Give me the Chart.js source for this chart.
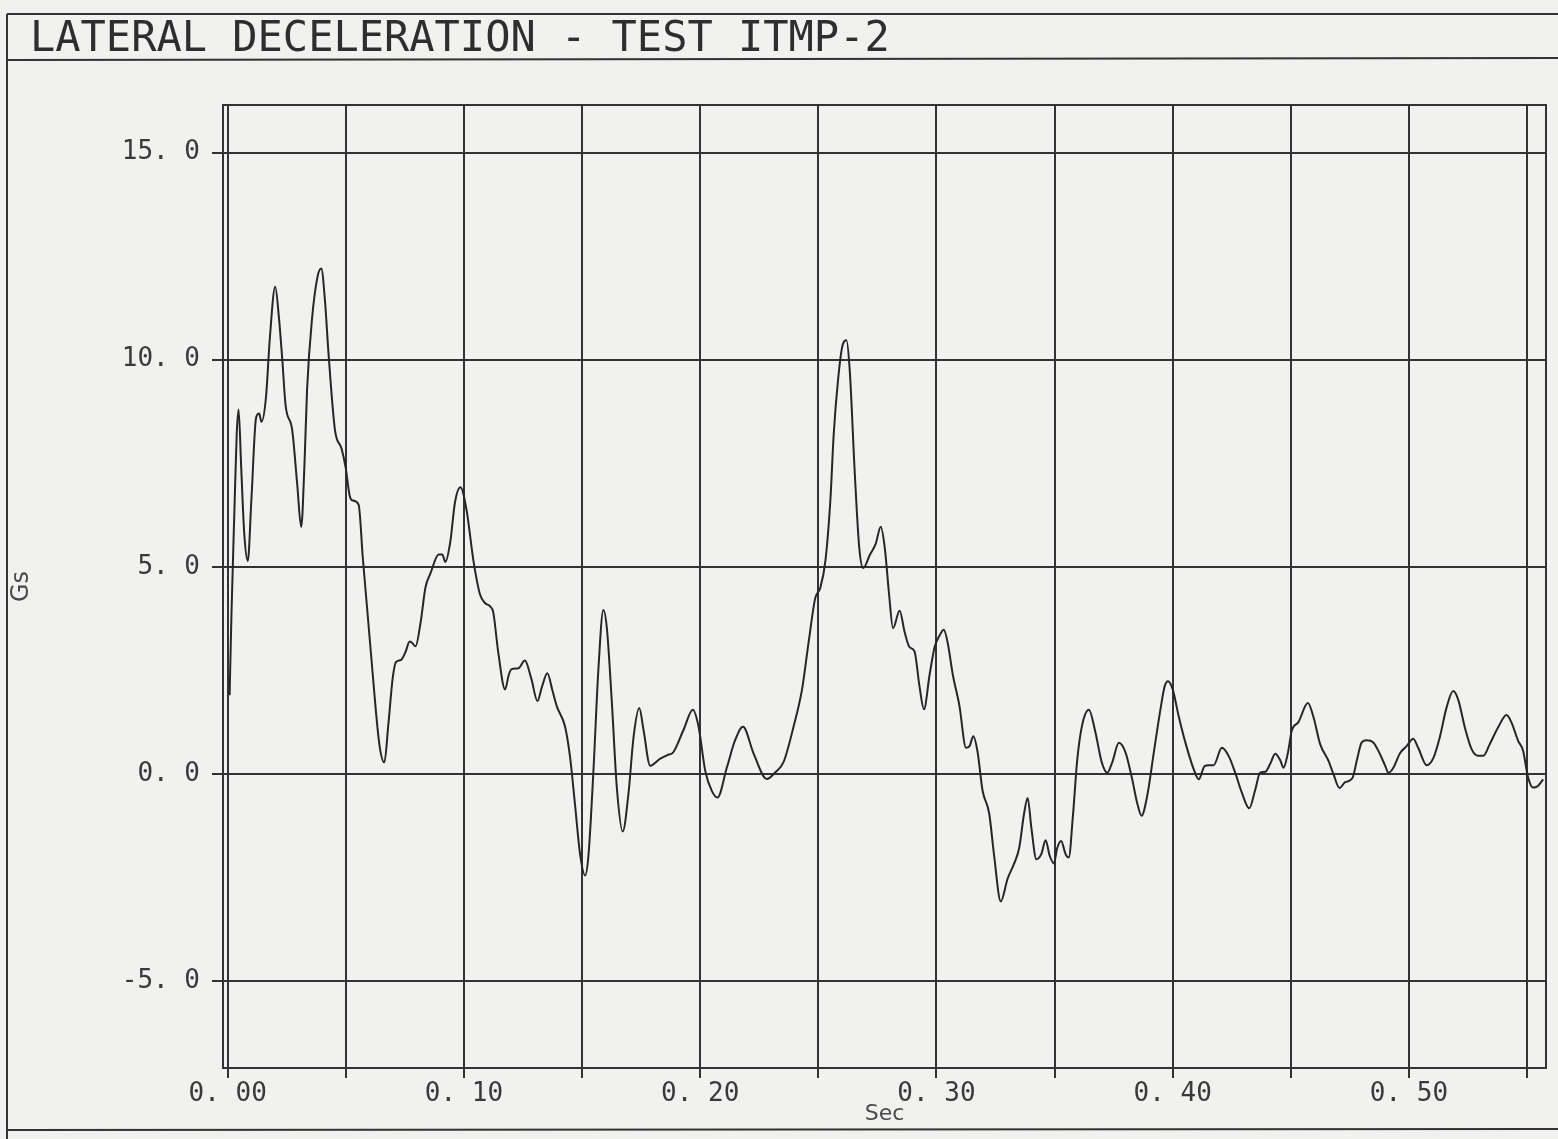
<!DOCTYPE html>
<html>
<head>
<meta charset="utf-8">
<title>Lateral Deceleration - Test ITMP-2</title>
<script src="https://cdn.jsdelivr.net/npm/chart.js@4.4.1/dist/chart.umd.min.js"></script>
<style>
  html, body { margin: 0; padding: 0; background: #f1f1ef; }
  #wrap { width: 1558px; height: 1139px; }
</style>
</head>
<body>
<div id="wrap"><canvas id="decelChart"></canvas></div>
<script>
// time in seconds
const timeSec = [
  0.0008, 0.0016, 0.0029, 0.0038, 0.0046, 0.0057, 0.0070, 0.0085, 0.0100, 0.0120,
  0.0133, 0.0143, 0.0162, 0.0178, 0.0201, 0.0217, 0.0231, 0.0245, 0.0273, 0.0294,
  0.0311, 0.0325, 0.0336, 0.0357, 0.0380, 0.0396, 0.0412, 0.0426, 0.0454, 0.0482,
  0.0499, 0.0517, 0.0530, 0.0554, 0.0572, 0.0607, 0.0642, 0.0663, 0.0680, 0.0698,
  0.0712, 0.0733, 0.0753, 0.0770, 0.0781, 0.0795, 0.0816, 0.0837, 0.0858, 0.0893,
  0.0908, 0.0921, 0.0942, 0.0962, 0.0985, 0.1011, 0.1040, 0.1068, 0.1090, 0.1110,
  0.1124, 0.1145, 0.1174, 0.1190, 0.1202, 0.1230, 0.1258, 0.1285, 0.1311, 0.1330,
  0.1353, 0.1375, 0.1393, 0.1428, 0.1449, 0.1470, 0.1492, 0.1513, 0.1527, 0.1548,
  0.1569, 0.1590, 0.1605, 0.1626, 0.1647, 0.1672, 0.1696, 0.1718, 0.1742, 0.1760,
  0.1788, 0.1831, 0.1859, 0.1887, 0.1929, 0.1969, 0.1993, 0.2021, 0.2049, 0.2073,
  0.2113, 0.2148, 0.2181, 0.2226, 0.2282, 0.2318, 0.2353, 0.2395, 0.2431, 0.2459,
  0.2487, 0.2508, 0.2530, 0.2551, 0.2565, 0.2584, 0.2603, 0.2619, 0.2633, 0.2654,
  0.2673, 0.2690, 0.2718, 0.2743, 0.2764, 0.2781, 0.2799, 0.2816, 0.2844, 0.2865,
  0.2886, 0.2907, 0.2928, 0.2947, 0.2971, 0.2992, 0.3013, 0.3031, 0.3048, 0.3069,
  0.3097, 0.3125, 0.3140, 0.3156, 0.3174, 0.3195, 0.3223, 0.3244, 0.3272, 0.3301,
  0.3329, 0.3350, 0.3371, 0.3386, 0.3402, 0.3423, 0.3444, 0.3462, 0.3479, 0.3497,
  0.3511, 0.3528, 0.3546, 0.3560, 0.3577, 0.3596, 0.3617, 0.3645, 0.3673, 0.3699,
  0.3723, 0.3744, 0.3772, 0.3800, 0.3828, 0.3849, 0.3868, 0.3892, 0.3920, 0.3948,
  0.3966, 0.3980, 0.4000, 0.4025, 0.4054, 0.4089, 0.4110, 0.4135, 0.4152, 0.4173,
  0.4208, 0.4237, 0.4265, 0.4293, 0.4324, 0.4349, 0.4370, 0.4392, 0.4413, 0.4434,
  0.4455, 0.4469, 0.4487, 0.4504, 0.4532, 0.4572, 0.4596, 0.4624, 0.4659, 0.4680,
  0.4706, 0.4730, 0.4761, 0.4779, 0.4800, 0.4821, 0.4849, 0.4877, 0.4899, 0.4913,
  0.4934, 0.4962, 0.4990, 0.5018, 0.5039, 0.5075, 0.5103, 0.5131, 0.5159, 0.5187,
  0.5208, 0.5237, 0.5265, 0.5293, 0.5315, 0.5342, 0.5377, 0.5413, 0.5434, 0.5462,
  0.5483, 0.5504, 0.5525, 0.5546, 0.5568
];

// lateral deceleration in Gs
const lateralGs = [
  1.90, 3.90, 6.50, 8.20, 8.80, 7.40, 5.80, 5.14, 6.60, 8.60,
  8.70, 8.50, 9.10, 10.5, 11.76, 11.0, 10.0, 8.90, 8.30, 7.00,
  5.96, 7.50, 9.30, 11.0, 12.0, 12.2, 11.4, 10.2, 8.30, 7.85,
  7.40, 6.70, 6.60, 6.50, 5.20, 2.86, 0.71, 0.28, 1.20, 2.30,
  2.70, 2.75, 2.95, 3.20, 3.16, 3.08, 3.64, 4.50, 4.84, 5.30,
  5.30, 5.12, 5.60, 6.56, 6.92, 6.37, 5.15, 4.33, 4.12, 4.05,
  3.90, 2.94, 2.04, 2.40, 2.53, 2.55, 2.74, 2.30, 1.76, 2.10,
  2.43, 2.00, 1.63, 1.14, 0.41, -0.74, -1.96, -2.45, -1.96, 0.08,
  2.53, 3.96, 3.51, 1.72, -0.33, -1.39, -0.49, 0.90, 1.59, 1.06,
  0.20, 0.37, 0.45, 0.53, 1.06, 1.55, 1.14, 0.08, -0.41, -0.57,
  0.16, 0.82, 1.14, 0.49, -0.12, 0.04, 0.29, 1.14, 2.04, 3.19,
  4.25, 4.49, 5.15, 6.62, 8.20, 9.55, 10.36, 10.47, 9.73, 7.28,
  5.47, 4.97, 5.29, 5.56, 5.97, 5.47, 4.36, 3.52, 3.94, 3.43,
  3.06, 2.96, 2.12, 1.56, 2.40, 3.06, 3.34, 3.48, 3.15, 2.40,
  1.65, 0.63, 0.67, 0.91, 0.53, -0.40, -0.95, -1.97, -3.08, -2.53,
  -2.16, -1.79, -0.95, -0.58, -1.32, -2.06, -1.93, -1.60, -1.97, -2.16,
  -1.79, -1.62, -1.93, -2.02, -1.05, 0.35, 1.19, 1.55, 1.00, 0.29,
  0.03, 0.28, 0.75, 0.52, -0.12, -0.69, -1.01, -0.53, 0.52, 1.56,
  2.12, 2.24, 2.04, 1.40, 0.75, 0.11, -0.13, 0.19, 0.21, 0.21,
  0.63, 0.43, 0.02, -0.46, -0.83, -0.39, 0.03, 0.05, 0.25, 0.49,
  0.33, 0.15, 0.49, 1.05, 1.25, 1.71, 1.37, 0.72, 0.32, 0.00,
  -0.34, -0.20, -0.10, 0.32, 0.76, 0.81, 0.76, 0.48, 0.20, 0.03,
  0.15, 0.50, 0.67, 0.85, 0.63, 0.21, 0.38, 0.90, 1.60, 2.00,
  1.80, 1.11, 0.60, 0.44, 0.44, 0.72, 1.12, 1.42, 1.24, 0.80,
  0.56, -0.08, -0.33, -0.29, -0.13
];

const xTickStep = 0.05;  // grid every 0.05 s, label every 0.10 s
const yTickStep = 5;

const ink = '#333333';
const monoFont = 'DejaVu Sans Mono';

// plotter style page frame + box around plot area
const paperFrame = {
    id: 'paperFrame',
    beforeDatasetsDraw(chart) {
        const { ctx, chartArea: a, width, height } = chart;
        ctx.save();
        ctx.strokeStyle = ink;
        ctx.lineWidth = 2;
        ctx.strokeRect(a.left, a.top, a.right - a.left, a.bottom - a.top);
        ctx.beginPath();
        ctx.moveTo(7, 14); ctx.lineTo(width, 14);
        ctx.moveTo(7, 60); ctx.lineTo(width, 58);
        ctx.moveTo(7, 14); ctx.lineTo(7, height);
        ctx.moveTo(7, 1130); ctx.lineTo(width, 1129);
        ctx.stroke();
        ctx.restore();
    }
};

const ctx = document.getElementById('decelChart').getContext('2d');
const decelChart = new Chart(ctx, {
    type: 'line',
    data: {
        datasets: [{
            label: 'Lateral deceleration',
            data: timeSec.map((t, i) => ({ x: t, y: lateralGs[i] })),
            borderColor: '#262626',
            borderWidth: 2,
            pointRadius: 0,
            cubicInterpolationMode: 'monotone',
            fill: false
        }]
    },
    options: {
        responsive: true,
        maintainAspectRatio: false,
        animation: false,
        layout: {
            padding: { left: 30, right: 12, top: 0, bottom: 0 }
        },
        plugins: {
            legend: { display: false },
            tooltip: { enabled: false },
            title: {
                display: true,
                text: 'LATERAL DECELERATION - TEST ITMP-2',
                align: 'start',
                color: '#2e2e2e',
                font: { family: monoFont, size: 42, weight: 'normal', lineHeight: 1 },
                padding: { top: 19, bottom: 44 }
            }
        },
        scales: {
            x: {
                type: 'linear',
                min: -0.002,
                max: 0.558,
                afterFit(scale) { scale.height = 71; },
                border: { color: ink, width: 2 },
                grid: { color: ink, lineWidth: 2, tickLength: 10 },
                ticks: {
                    stepSize: xTickStep,
                    includeBounds: false,
                    autoSkip: false,
                    maxRotation: 0,
                    padding: 1,
                    color: '#3a3a3a',
                    font: { family: monoFont, size: 26 },
                    callback: function(value) {
                        const hundredths = Math.round(value * 100);
                        if (hundredths % 10 !== 0) return '';
                        return (hundredths / 100).toFixed(2).replace('.', '. ');
                    }
                },
                title: {
                    display: true,
                    text: 'Sec',
                    color: '#4a4a4a',
                    font: { family: 'DejaVu Sans', size: 22 },
                    padding: { top: 0, bottom: 12 }
                }
            },
            y: {
                min: -7.1,
                max: 16.15,
                afterFit(scale) { scale.width = 193; },
                border: { color: ink, width: 2 },
                grid: { color: ink, lineWidth: 2, tickLength: 11 },
                ticks: {
                    stepSize: yTickStep,
                    includeBounds: false,
                    padding: 12,
                    color: '#3a3a3a',
                    font: { family: monoFont, size: 26 },
                    callback: function(value) {
                        return value.toFixed(1).replace('.', '. ');
                    }
                },
                title: {
                    display: true,
                    text: 'Gs',
                    color: '#4a4a4a',
                    font: { family: 'DejaVu Sans', size: 24 },
                    padding: { top: -23, bottom: 0 }
                }
            }
        }
    },
    plugins: [paperFrame]
});
</script>
</body>
</html>
